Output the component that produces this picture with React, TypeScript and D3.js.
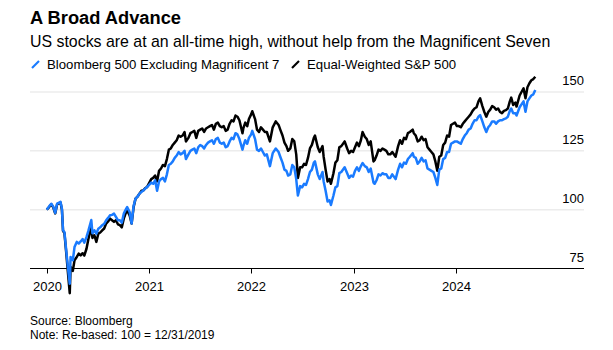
import React, { useRef, useEffect } from "react"
import * as d3 from "d3"

const dates = [
    "2020-01-01", "2020-01-10", "2020-01-17", "2020-01-24", "2020-01-31", "2020-02-07", "2020-02-14", "2020-02-19",
    "2020-02-24", "2020-02-28", "2020-03-04", "2020-03-11", "2020-03-16", "2020-03-23", "2020-03-26", "2020-04-03",
    "2020-04-09", "2020-04-17", "2020-04-24", "2020-05-01", "2020-05-08", "2020-05-14", "2020-05-22", "2020-05-29",
    "2020-06-08", "2020-06-12", "2020-06-19", "2020-06-26", "2020-07-03", "2020-07-10", "2020-07-17", "2020-07-24",
    "2020-07-31", "2020-08-07", "2020-08-14", "2020-08-21", "2020-08-28", "2020-09-04", "2020-09-11", "2020-09-18",
    "2020-09-25", "2020-10-02", "2020-10-09", "2020-10-14", "2020-10-23", "2020-10-30", "2020-11-06", "2020-11-13",
    "2020-11-20", "2020-11-27", "2020-12-04", "2020-12-11", "2020-12-18", "2020-12-24",
    "2021-01-08", "2021-01-15", "2021-01-22", "2021-01-29", "2021-02-05", "2021-02-12", "2021-02-19", "2021-02-26",
    "2021-03-05", "2021-03-12", "2021-03-19", "2021-03-26", "2021-04-02", "2021-04-09", "2021-04-16", "2021-04-23",
    "2021-04-30", "2021-05-07", "2021-05-12", "2021-05-21", "2021-05-28", "2021-06-04", "2021-06-11", "2021-06-18",
    "2021-06-25", "2021-07-02", "2021-07-09", "2021-07-16", "2021-07-23", "2021-07-30", "2021-08-06", "2021-08-13",
    "2021-08-20", "2021-08-27", "2021-09-03", "2021-09-10", "2021-09-17", "2021-09-24", "2021-10-01", "2021-10-08",
    "2021-10-15", "2021-10-22", "2021-10-29", "2021-11-05", "2021-11-12", "2021-11-19", "2021-11-30", "2021-12-03",
    "2021-12-10", "2021-12-17", "2021-12-23", "2021-12-31",
    "2022-01-04", "2022-01-14", "2022-01-21", "2022-01-28", "2022-02-04", "2022-02-11", "2022-02-18", "2022-02-25",
    "2022-03-08", "2022-03-18", "2022-03-29", "2022-04-08", "2022-04-14", "2022-04-22", "2022-04-29", "2022-05-06",
    "2022-05-12", "2022-05-20", "2022-05-27", "2022-06-03", "2022-06-10", "2022-06-16", "2022-06-24", "2022-07-01",
    "2022-07-08", "2022-07-15", "2022-07-22", "2022-07-29", "2022-08-05", "2022-08-12", "2022-08-16", "2022-08-26",
    "2022-09-02", "2022-09-12", "2022-09-16", "2022-09-23", "2022-09-30", "2022-10-07", "2022-10-12", "2022-10-21",
    "2022-10-28", "2022-11-04", "2022-11-11", "2022-11-18", "2022-11-30", "2022-12-09", "2022-12-16", "2022-12-23",
    "2022-12-30",
    "2023-01-06", "2023-01-13", "2023-01-20", "2023-01-27", "2023-02-02", "2023-02-10", "2023-02-17", "2023-02-24",
    "2023-03-03", "2023-03-13", "2023-03-17", "2023-03-24", "2023-03-31", "2023-04-07", "2023-04-14", "2023-04-21",
    "2023-04-28", "2023-05-05", "2023-05-12", "2023-05-19", "2023-05-31", "2023-06-09", "2023-06-16", "2023-06-23",
    "2023-06-30", "2023-07-07", "2023-07-14", "2023-07-21", "2023-07-31", "2023-08-04", "2023-08-11", "2023-08-18",
    "2023-08-25", "2023-09-01", "2023-09-08", "2023-09-15", "2023-09-22", "2023-09-29", "2023-10-06", "2023-10-13",
    "2023-10-20", "2023-10-27", "2023-11-03", "2023-11-10", "2023-11-17", "2023-11-24", "2023-12-01", "2023-12-08",
    "2023-12-15", "2023-12-22", "2023-12-29",
    "2024-01-05", "2024-01-12", "2024-01-19", "2024-01-26", "2024-02-02", "2024-02-09", "2024-02-16", "2024-02-23",
    "2024-03-01", "2024-03-08", "2024-03-15", "2024-03-22", "2024-03-28", "2024-04-05", "2024-04-12", "2024-04-19",
    "2024-04-26", "2024-05-03", "2024-05-10", "2024-05-17", "2024-05-24", "2024-05-31", "2024-06-07", "2024-06-14",
    "2024-06-21", "2024-06-28", "2024-07-05", "2024-07-12", "2024-07-17", "2024-07-24", "2024-08-01", "2024-08-05",
    "2024-08-16", "2024-08-30", "2024-09-06", "2024-09-13", "2024-09-20", "2024-09-27", "2024-10-04", "2024-10-11",
]

// Bloomberg 500 Excluding Magnificent 7
const exMag7 = [
    100, 101.5, 102.5, 101.3, 98.6, 102.6, 103, 103.3,
    100.5, 91.2, 90.5, 82, 76, 68.5, 79.9, 78.5,
    84.1, 86.3, 85.6, 86.5, 87.5, 86, 88.4, 91.2,
    95.6, 90, 91.2, 89.8, 91.9, 92.5, 93.4, 94,
    95.5, 96.5, 97.6, 97.8, 98.3, 96.9, 95.5, 95.5,
    94.5, 98.3, 100, 101.1, 99, 94.1, 101.5, 104.7,
    105.5, 106.8, 107.5, 108.2, 109, 109.6,
    111.5, 111, 112.5, 108, 112, 113, 113.5, 112,
    115, 119, 119.5, 120.5, 122, 123, 124.5, 123.5,
    124, 125, 121.5, 123.5, 125, 125.5, 126, 124,
    126.5, 127.5, 127, 126, 127.5, 128.5, 129, 129.5,
    128, 130, 130.5, 128.5, 128, 128.5, 126.5, 127,
    129, 130.5, 130, 132.5, 132, 130, 125.5, 127,
    129.5, 128, 130.5, 132,
    133.5, 130, 125.5, 125, 126, 124.5, 123, 123.5,
    118.5, 124, 126, 124.5, 122.5, 120, 117, 116.5,
    114.5, 115, 119, 118, 113, 106, 110, 109.5,
    111, 110.5, 113, 116, 117, 120, 120.5, 115,
    113, 116, 112, 108, 103.5, 104, 102, 106,
    109.5, 110, 115.5, 116, 118, 115.5, 113.5, 114.5,
    114,
    116.5, 118, 116.5, 118.5, 119.8, 118.5, 118, 116,
    117.5, 111.5, 111, 112.5, 115, 114.5, 115.5, 115,
    115, 113.5, 113.5, 115, 113, 117, 119.5, 118,
    120, 119.5, 121.5, 122.5, 124, 122.5, 122, 119.5,
    120.5, 122, 120.5, 121, 117.5, 117, 116.5, 116,
    113.5, 110.5, 117, 117.5, 121.5, 122, 124.5, 124.5,
    128, 128.5, 129,
    129, 128.5, 128, 130, 131.5, 132.5, 134, 134.5,
    136.5, 138, 138, 139.5, 140.2, 137.5, 135, 133,
    135, 136, 137.5, 137.5, 136.5, 137.5, 138, 138,
    138.5, 138.8, 139.5, 142, 143, 141, 141, 140,
    143.5, 146, 141.6, 146, 147.3, 148.5, 149, 150.9,
]

// Equal-Weighted S&P 500
const equalWeight = [
    100, 101.2, 102.3, 101, 98.4, 102.3, 102.8, 103,
    100, 91, 90, 81, 74, 64.5, 75.7, 74,
    78.5, 79.9, 81.3, 80.6, 81.5, 80.5, 83.5, 87.7,
    92.8, 88, 89.1, 86.3, 89.8, 90.3, 91.2, 92,
    94.1, 95, 96.2, 95.5, 94.8, 95.5, 93.8, 93.4,
    92.5, 96.2, 98.5, 99.7, 97.5, 94.1, 101, 104.7,
    105.5, 106.8, 108, 108.2, 109.2, 109.6,
    113, 113.5, 114.5, 112, 116.5, 117.5, 119, 118.5,
    121.5, 125.5, 126, 127.5, 128.5, 129.5, 131.5, 131,
    131.5, 133, 129, 130.5, 132.5, 133, 133.5, 130.5,
    133.5, 134, 134.5, 133, 134.5, 135, 135.5, 136,
    134, 136.5, 137, 135.5, 135, 135.5, 133.5, 134,
    136.5, 138, 137.5, 140, 139.5, 138, 132.5, 134.5,
    137, 135.5, 138.5, 140.5,
    141.8, 138.5, 134, 133, 135, 134, 133, 133,
    129, 135, 137.5, 136, 134, 131.5, 128.5, 127,
    125, 126, 130, 129, 123.5, 113.5, 118, 118,
    119.5, 119, 122, 126, 127.5, 130.5, 131.5, 126.5,
    124.5, 127, 122.5, 117, 112, 113, 111, 115.5,
    120, 121, 126.5, 127, 129, 126, 124, 125,
    124.5,
    126.5, 128.5, 127, 129.5, 133, 131, 130, 127.5,
    129, 120.5, 121, 123, 125.5, 125, 126, 125.5,
    125, 123.5, 123.5, 124.5, 122.5, 127, 129.5, 128,
    130.5, 130, 132.5, 133, 134, 132.5, 131.5, 129,
    129.5, 131, 129.5, 130, 126.5, 125.5, 124.5, 123.5,
    120.5, 116.5, 122.5, 123, 127.5, 128.5, 131.5, 131,
    136, 136.5, 137,
    135.5, 135.5, 135, 136.5, 137.5, 138.5, 139.5, 140.5,
    142, 143, 143.5, 146, 147.3, 144, 141.5, 139.5,
    141.5, 142.5, 144, 143.5, 142.5, 143, 141.5, 141,
    142, 142.3, 143, 146, 147.6, 144.5, 145.5, 143.8,
    148.5, 151.6, 147.3, 152, 153.7, 155, 155.5, 156.5,
]

const yearTicks = ["2020", "2021", "2022", "2023", "2024"]
const valueTicks = [75, 100, 125, 150]

const BLUE = "#1a7bff"
const FONT = "'Liberation Sans', Arial, Helvetica, sans-serif"

export default function App() {
    const svgRef = useRef<SVGSVGElement>(null)

    useEffect(() => {
        if (!svgRef.current) return
        const svg = d3.select(svgRef.current)
        svg.selectAll("*").remove()

        const width = 613
        const height = 350
        const left = 30
        const right = 584
        const axisY = 268.5

        const parse = d3.timeParse("%Y-%m-%d")
        const rows = dates.map((d, i) => ({ date: parse(d) as Date, ex: exMag7[i], ew: equalWeight[i] }))

        const x = d3.scaleTime()
            .domain([new Date(2019, 10, 2), new Date(2025, 3, 3)])
            .range([left, right])

        const y = d3.scaleLinear()
            .domain([75, 150])
            .range([axisY, 92])

        svg.attr("width", width).attr("height", height).attr("viewBox", `0 0 ${width} ${height}`)

        // Header
        svg.append("text")
            .attr("x", 30).attr("y", 24)
            .attr("font-family", FONT).attr("font-size", 18.3).attr("font-weight", "bold")
            .attr("fill", "#000")
            .text("A Broad Advance")

        svg.append("text")
            .attr("x", 30).attr("y", 47)
            .attr("font-family", FONT).attr("font-size", 15.9)
            .attr("fill", "#000")
            .text("US stocks are at an all-time high, without help from the Magnificent Seven")

        // Legend
        const legend = [
            { label: "Bloomberg 500 Excluding Magnificent 7", color: BLUE, x: 31 },
            { label: "Equal-Weighted S&P 500", color: "#000", x: 291 },
        ]
        legend.forEach(l => {
            svg.append("line")
                .attr("x1", l.x + 1).attr("y1", 68)
                .attr("x2", l.x + 8).attr("y2", 61)
                .attr("stroke", l.color).attr("stroke-width", 2.2)
            svg.append("text")
                .attr("x", l.x + 16).attr("y", 69)
                .attr("font-family", FONT).attr("font-size", 13.2)
                .attr("fill", "#000")
                .text(l.label)
        })

        // Grid lines + right-hand labels
        const grid = svg.append("g")
        valueTicks.forEach(v => {
            if (v !== 75) {
                grid.append("line")
                    .attr("x1", left).attr("x2", right)
                    .attr("y1", y(v)).attr("y2", y(v))
                    .attr("stroke", "#ececec").attr("stroke-width", 1.5)
            }
            grid.append("text")
                .attr("x", right).attr("y", y(v) - 7)
                .attr("text-anchor", "end")
                .attr("font-family", FONT).attr("font-size", 13)
                .attr("fill", "#000")
                .text(v)
        })

        // X axis
        const xAxis = svg.append("g")
        xAxis.append("line")
            .attr("x1", left).attr("x2", right)
            .attr("y1", axisY).attr("y2", axisY)
            .attr("stroke", "#000").attr("stroke-width", 1)
        yearTicks.forEach(t => {
            const px = Math.round(x(parse(`${t}-01-01`) as Date)) + 0.5
            xAxis.append("line")
                .attr("x1", px).attr("x2", px)
                .attr("y1", axisY).attr("y2", axisY + 5)
                .attr("stroke", "#000").attr("stroke-width", 1)
            xAxis.append("text")
                .attr("x", px).attr("y", 291)
                .attr("text-anchor", "middle")
                .attr("font-family", FONT).attr("font-size", 13)
                .attr("fill", "#000")
                .text(t)
        })

        // Series
        const lineEW = d3.line<any>().x(d => x(d.date)).y(d => y(d.ew)).curve(d3.curveLinear)
        const lineEx = d3.line<any>().x(d => x(d.date)).y(d => y(d.ex)).curve(d3.curveLinear)

        svg.append("path")
            .datum(rows)
            .attr("fill", "none")
            .attr("stroke", "#000")
            .attr("stroke-width", 2.5)
            .attr("stroke-linejoin", "round")
            .attr("d", lineEW)

        svg.append("path")
            .datum(rows)
            .attr("fill", "none")
            .attr("stroke", BLUE)
            .attr("stroke-width", 2.5)
            .attr("stroke-linejoin", "round")
            .attr("d", lineEx)

        // Footer
        svg.append("text")
            .attr("x", 30).attr("y", 325)
            .attr("font-family", FONT).attr("font-size", 12)
            .attr("fill", "#000")
            .text("Source: Bloomberg")
        svg.append("text")
            .attr("x", 30).attr("y", 339)
            .attr("font-family", FONT).attr("font-size", 12)
            .attr("fill", "#000")
            .text("Note: Re-based: 100 = 12/31/2019")
    }, [])

    return (
        <div style={{ position: "absolute", left: 0, top: 0, width: 613, height: 350, background: "#fff" }}>
            <svg ref={svgRef} width={613} height={350} style={{ display: "block" }} />
        </div>
    )
}
